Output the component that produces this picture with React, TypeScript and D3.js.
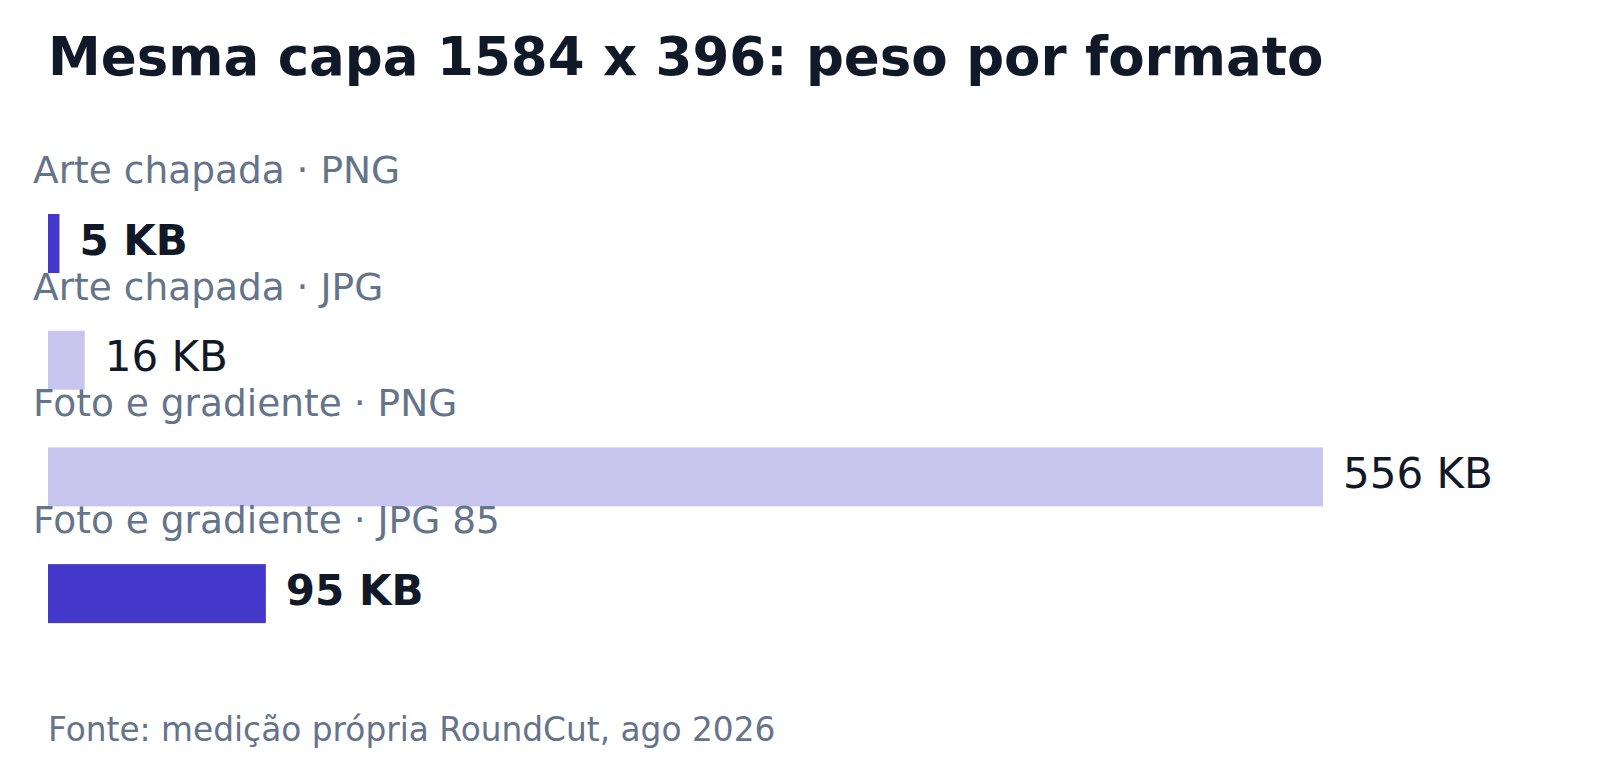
import * as d3 from 'd3';

const CATEGORIES: string[] = [
  'Arte chapada · PNG',
  'Arte chapada · JPG',
  'Foto e gradiente · PNG',
  'Foto e gradiente · JPG 85',
];
const VALUES_KB: number[] = [5, 16, 556, 95];
const HIGHLIGHT: boolean[] = [true, false, false, true];

const TITLE = 'Mesma capa 1584 x 396: peso por formato';
const SOURCE = 'Fonte: medição própria RoundCut, ago 2026';

const W = 1600;
const H = 772;
const FONT = '"DejaVu Sans", sans-serif';

export default function App() {
  const margin = { top: 214, left: 48, right: 277, bottom: 149 };
  const rowStep = 116.7;
  const barH = 59;

  const x = d3.scaleLinear()
    .domain([0, d3.max(VALUES_KB) ?? 0])
    .range([margin.left, W - margin.right]);

  // rows laid out by index, fixed step
  const y = d3.scaleLinear()
    .domain([0, 1])
    .range([margin.top, margin.top + rowStep]);

  return (
    <svg
      width={W}
      height={H}
      style={{ position: 'absolute', left: 0, top: 0, background: '#fff' }}
      fontFamily={FONT}
    >
      <rect x={0} y={0} width={W} height={H} fill="#ffffff" />
      {/* Title */}
      <text x={48} y={75} fontSize={53} fontWeight={700} fill="#111827">
        {TITLE}
      </text>

      {CATEGORIES.map((c, i) => {
        const by = y(i);
        const bw = x(VALUES_KB[i]) - x(0);
        const strong = HIGHLIGHT[i];
        return (
          <g key={c}>
            {/* Category label */}
            <text x={33} y={by - 31} fontSize={37.5} fill="#64748b">
              {c}
            </text>
            {/* Bar */}
            <rect
              x={x(0)} y={by}
              width={bw} height={barH}
              fill={strong ? '#4338ca' : '#c7c4ee'}
            />
            {/* Value */}
            <text
              x={x(VALUES_KB[i]) + 20}
              y={by + barH / 2 + 11}
              fontSize={42}
              fontWeight={strong ? 700 : 400}
              fill="#111827"
            >
              {VALUES_KB[i]} KB
            </text>
          </g>
        );
      })}

      {/* Source */}
      <text x={48} y={741} fontSize={32.8} fill="#64748b">
        {SOURCE}
      </text>
    </svg>
  );
}
